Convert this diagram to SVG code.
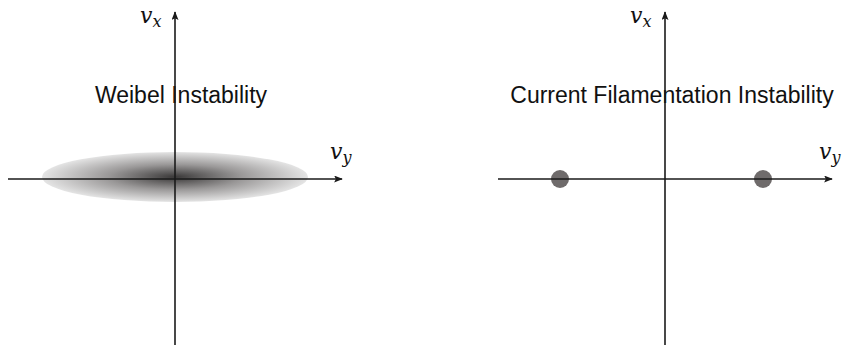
<svg xmlns="http://www.w3.org/2000/svg" width="842" height="350" viewBox="0 0 842 350">
<style>
.ax{stroke:#1a1a1a;stroke-width:1.6;fill:none}
.t{font-family:"Liberation Sans",Arial,sans-serif;font-size:23px;fill:#111}
.m{font-family:"DejaVu Serif","Liberation Serif",serif;font-style:italic;fill:#111}
.dot{fill:#6f6b6b}
</style>
<defs>
<marker id="ah" viewBox="0 0 10 8" refX="9" refY="4" markerWidth="9" markerHeight="7" markerUnits="userSpaceOnUse" orient="auto">
<path d="M0,0 L10,4 L0,8 L2,4 Z" fill="#1a1a1a"/>
</marker>
<radialGradient id="g" cx="0.5" cy="0.5" r="0.5">
<stop offset="0" stop-color="#3a3838"/>
<stop offset="0.5" stop-color="#9a9898"/>
<stop offset="1" stop-color="#e4e4e4"/>
</radialGradient>
</defs>
<g id="weibel">
<ellipse cx="175" cy="177" rx="133" ry="25" fill="url(#g)"/>
<text class="t" x="181" y="103" text-anchor="middle">Weibel Instability</text>
</g>
<g id="filament">
<text class="t" x="672" y="103" text-anchor="middle">Current Filamentation Instability</text>
<circle class="dot" cx="560" cy="179" r="9"/>
<circle class="dot" cx="763" cy="179" r="9"/>
</g>
<g id="connectors">
<line class="ax" x1="8" y1="179" x2="342" y2="179" marker-end="url(#ah)"/>
<line class="ax" x1="175" y1="345" x2="175" y2="12" marker-end="url(#ah)"/>
<line class="ax" x1="498" y1="179" x2="832" y2="179" marker-end="url(#ah)"/>
<line class="ax" x1="665" y1="345" x2="665" y2="12" marker-end="url(#ah)"/>
</g>
<g id="labels">
<text class="m" x="140" y="23" font-size="22">v<tspan font-size="16" dy="4">x</tspan></text>
<text class="m" x="330" y="159" font-size="22">v<tspan font-size="16" dy="4">y</tspan></text>
<text class="m" x="630" y="23" font-size="22">v<tspan font-size="16" dy="4">x</tspan></text>
<text class="m" x="819" y="159" font-size="22">v<tspan font-size="16" dy="4">y</tspan></text>
</g>
</svg>
